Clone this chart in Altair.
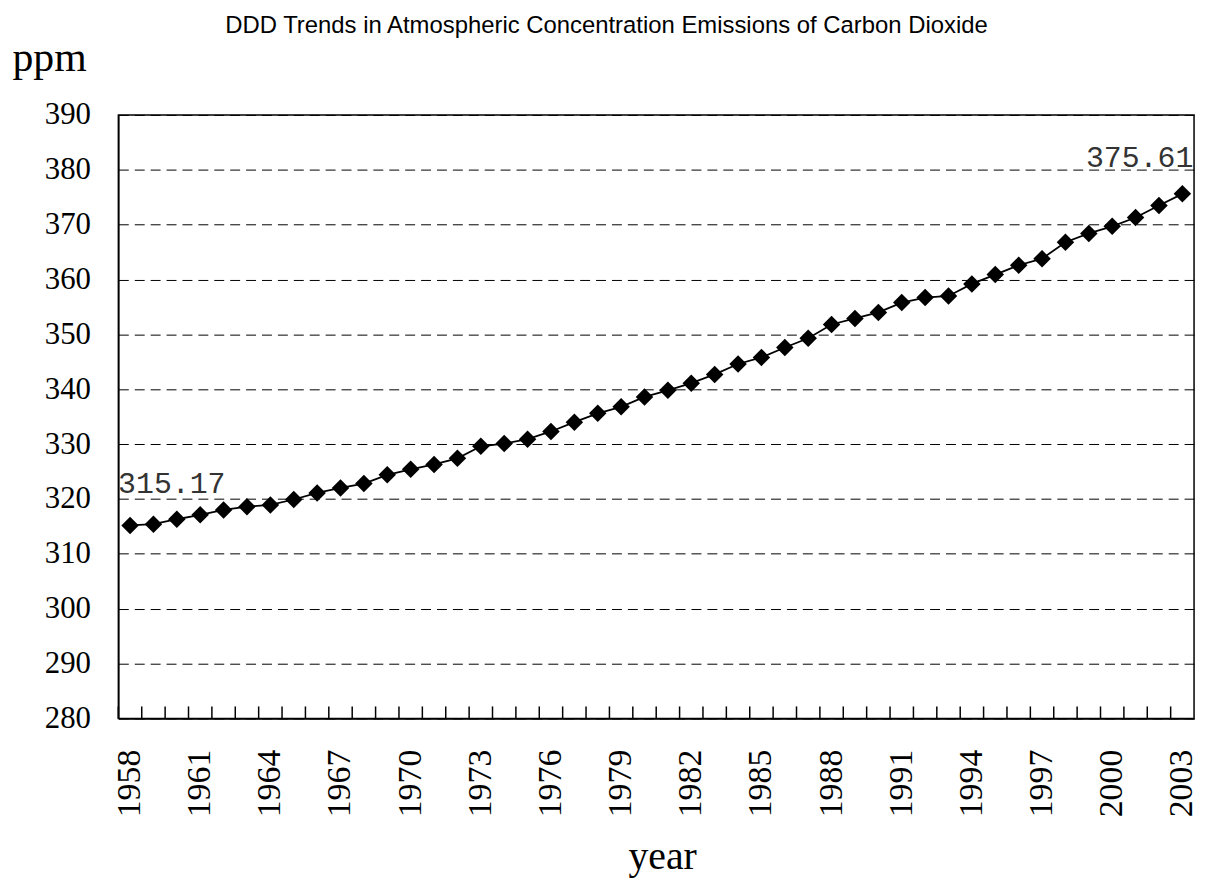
import altair as alt
import pandas as pd

years = list(range(1958, 2004))
co2 = [315.17, 315.4, 316.3, 317.1, 318.0, 318.6, 318.9, 319.9, 321.1, 322.0,
       322.8, 324.4, 325.4, 326.3, 327.4, 329.6, 330.1, 330.9, 332.3, 334.0,
       335.6, 336.8, 338.6, 339.8, 341.1, 342.7, 344.6, 345.8, 347.6, 349.3,
       351.8, 352.9, 354.0, 355.8, 356.7, 357.0, 359.2, 360.9, 362.6, 363.8,
       366.8, 368.4, 369.7, 371.3, 373.5, 375.61]
label_years = years[::3]
y_ticks = list(range(280, 391, 10))

title_text = "DDD Trends in Atmospheric Concentration Emissions of Carbon Dioxide"

df = pd.DataFrame({"year": years, "ppm": co2})

W, H = 1082, 607
SERIF = "Liberation Serif"

x_axis = alt.Axis(values=label_years, labelAngle=270, labelFont=SERIF, labelFontSize=34,
                  labelPadding=31, labelColor="black", tickSize=0, domainColor="black",
                  domainWidth=1.5, grid=False, title="year", titleFont=SERIF,
                  titleFontSize=40, titleFontWeight="normal", titleColor="black",
                  titleAnchor="start", titleAlign="center", titleBaseline="alphabetic",
                  titleX=547, titleY=151)
x_scale = alt.Scale(type="band", paddingInner=0, paddingOuter=0)
x_enc = alt.X("year:O", scale=x_scale, axis=x_axis, bandPosition=0.5)

y_axis = alt.Axis(values=y_ticks, grid=True, gridDash=[10, 6], gridColor="black",
                  gridWidth=1, gridOpacity=1, tickSize=0, labelPadding=28,
                  labelFont=SERIF, labelFontSize=31, labelColor="black",
                  domainColor="black", domainWidth=1.5, title="ppm", titleAngle=0,
                  titleX=-107, titleY=-45, titleAlign="left", titleBaseline="alphabetic",
                  titleFont=SERIF, titleFontSize=42, titleFontWeight="normal",
                  titleColor="black")
y_enc = alt.Y("ppm:Q", scale=alt.Scale(domain=[280, 390], nice=False, zero=False), axis=y_axis)

base = alt.Chart(df)

line = base.mark_line(color="black", strokeWidth=1.8).encode(x=x_enc, y=y_enc)
points = base.mark_point(shape="diamond", filled=True, size=310, color="black",
                         opacity=1).encode(x=x_enc, y=y_enc)
ticks = base.mark_rule(color="black", strokeWidth=1.5).encode(
    x=alt.X("year:O", scale=x_scale, axis=x_axis, bandPosition=0),
    y=alt.value(H - 12), y2=alt.value(H))

first_lbl = base.transform_filter(alt.datum.year == years[0]).mark_text(
    align="left", baseline="alphabetic", dx=-12, dy=-33, font="Liberation Mono",
    fontSize=30, color="#333").encode(x=x_enc, y=y_enc, text=alt.Text("ppm:Q", format=".2f"))
last_lbl = base.transform_filter(alt.datum.year == years[-1]).mark_text(
    align="right", baseline="alphabetic", dx=11, dy=-27, font="Liberation Mono",
    fontSize=30, color="#333").encode(x=x_enc, y=y_enc, text=alt.Text("ppm:Q", format=".2f"))

chart = alt.layer(line, points, ticks, first_lbl, last_lbl).properties(
    width=W, height=H,
    title=alt.TitleParams(title_text, font="Liberation Sans", fontSize=24,
                          fontWeight="normal", color="black", anchor="middle",
                          dx=-50, dy=7, offset=5),
    autosize=alt.AutoSizeParams(type="none"),
    padding={"left": 111, "top": 105, "right": 8, "bottom": 160},
    background="white",
).configure_view(stroke="black", strokeWidth=1.5)

chart.save("out.html", embed_options={"renderer": "svg", "actions": False})
